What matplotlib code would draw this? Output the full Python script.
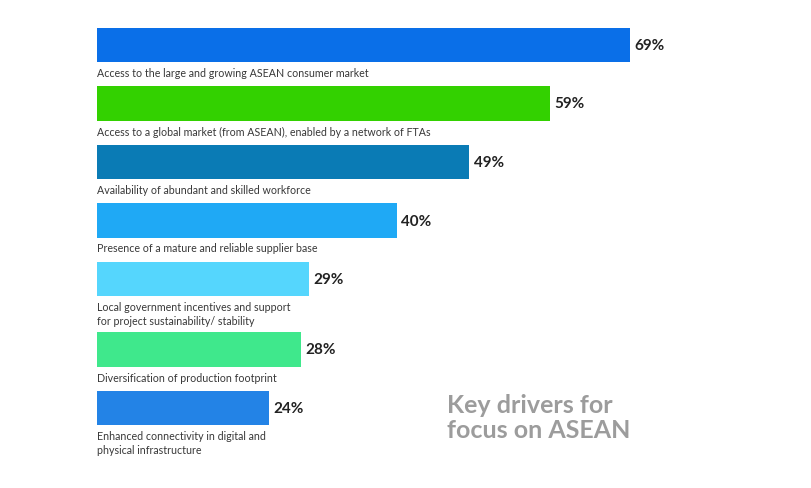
import matplotlib.pyplot as plt

categories = [
    'Access to the large and growing ASEAN consumer market',
    'Access to a global market (from ASEAN), enabled by a network of FTAs',
    'Availability of abundant and skilled workforce',
    'Presence of a mature and reliable supplier base',
    'Local government incentives and support\nfor project sustainability/ stability',
    'Diversification of production footprint',
    'Enhanced connectivity in digital and\nphysical infrastructure',
]
values = [69, 59, 49, 40, 29, 28, 24]
colors = ['#0a6fe8', '#33d100', '#0a7bb5', '#1fa9f5', '#55d6fd', '#3fe88c', '#2383e6']

plt.rcParams['font.family'] = ['Lato', 'DejaVu Sans']

W, H = 811, 488
fig = plt.figure(figsize=(W / 100, H / 100), dpi=100)
ax = fig.add_axes([97 / W, 0, (W - 97) / W, 1])

# vertical layout in pixels: each slot is 58.5 px, plus 12 px per extra label line
ys = []
y = 45
for lab in categories:
    ys.append(y)
    y += 58.5 + 12 * lab.count('\n')

ax.barh(ys, values, height=34.5, color=colors, left=0)
ax.set_xlim(2.56, 2.56 + (W - 97) / 8.02)
ax.set_ylim(H, 0)
ax.axis('off')

for yy, v, lab in zip(ys, values, categories):
    ax.annotate(f'{v}%', (v, yy + 1), xytext=(3, 0), textcoords='offset points',
                va='center', ha='left', fontsize=11, fontweight='bold', color='#222222')
    ax.text(0.0, yy + 23, lab, transform=ax.get_yaxis_transform(),
            ha='left', va='top', fontsize=7.7, color='#383838', linespacing=1.3)

fig.text(447 / W, 1 - 394 / H, 'Key drivers for\nfocus on ASEAN', ha='left', va='top',
         fontsize=18, fontweight='bold', color='#9c9c9c', linespacing=1.1)

fig.savefig('out.png', dpi=100, facecolor='white')
